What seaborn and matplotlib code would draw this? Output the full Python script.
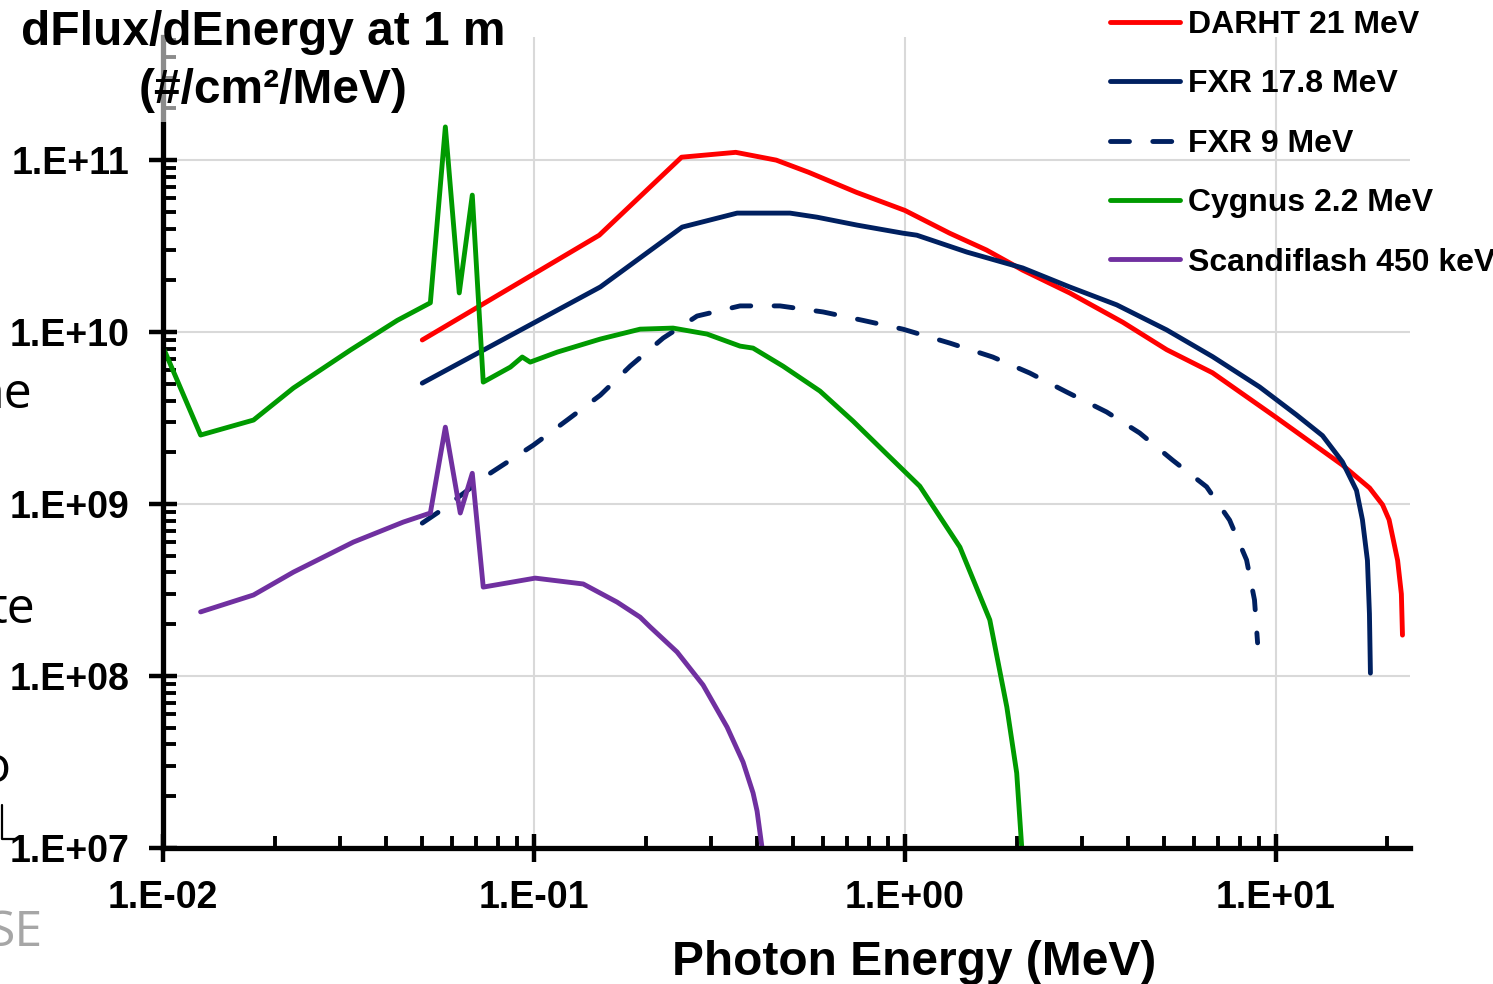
import numpy as np
import pandas as pd
import matplotlib
matplotlib.use("Agg")
import matplotlib.pyplot as plt
import seaborn as sns
from matplotlib.ticker import LogLocator, FuncFormatter, NullFormatter
from matplotlib.patches import Rectangle
from matplotlib.lines import Line2D

# ---------------- data ----------------
darht_x = [0.05, 0.15, 0.25, 0.35, 0.45, 0.55, 0.74, 1.0, 1.32, 1.66, 2.08, 2.78,
           3.87, 5.08, 6.75, 10.0, 15.1, 17.9, 19.4, 20.2, 21.3, 21.8, 21.95]
darht_y = [9.0e9, 3.66e10, 1.04e11, 1.11e11, 1.0e11, 8.5e10, 6.5e10, 5.1e10, 3.76e10,
           3.0e10, 2.29e10, 1.69e10, 1.14e10, 7.9e9, 5.8e9, 3.2e9, 1.69e9, 1.24e9,
           9.9e8, 8.1e8, 4.7e8, 3.0e8, 1.73e8]

fxr18_x = [0.05, 0.151, 0.251, 0.353, 0.49, 0.579, 0.743, 0.988, 1.077, 1.469, 2.078,
           2.782, 3.724, 5.077, 6.752, 9.04, 11.37, 13.36, 15.12, 16.5, 17.12, 17.66,
           17.88, 17.99]
fxr18_y = [5.05e9, 1.83e10, 4.08e10, 4.92e10, 4.92e10, 4.66e10, 4.19e10, 3.76e10,
           3.66e10, 2.92e10, 2.36e10, 1.83e10, 1.44e10, 1.03e10, 7.2e9, 4.8e9, 3.3e9,
           2.5e9, 1.76e9, 1.2e9, 8.1e8, 4.7e8, 2.3e8, 1.04e8]

fxr9_x = [0.05, 0.0553, 0.0762, 0.0996, 0.1229, 0.151, 0.1817, 0.223, 0.2753, 0.3594,
          0.4607, 0.6014, 0.7707, 0.988, 1.322, 1.726, 2.171, 2.731, 3.499, 4.295,
          5.27, 6.507, 7.505, 8.34, 8.76, 8.93]
fxr9_y = [7.75e8, 8.98e8, 1.51e9, 2.2e9, 3.08e9, 4.3e9, 6.34e9, 9.23e9, 1.24e10,
          1.42e10, 1.42e10, 1.31e10, 1.17e10, 1.04e10, 8.63e9, 7.16e9, 5.78e9,
          4.48e9, 3.43e9, 2.59e9, 1.80e9, 1.26e9, 8.07e8, 4.73e8, 2.77e8, 1.56e8]

cyg_x = [0.01, 0.01263, 0.01754, 0.02247, 0.032, 0.04282, 0.05257, 0.0577, 0.0629,
         0.0682, 0.073, 0.0864, 0.093, 0.0977, 0.1156, 0.151, 0.1933, 0.2372, 0.2929,
         0.3594, 0.3897, 0.4692, 0.5903, 0.7244, 0.8942, 1.097, 1.407, 1.694, 1.883,
         2.002, 2.066]
cyg_y = [8.18e9, 2.52e9, 3.08e9, 4.73e9, 7.86e9, 1.17e10, 1.48e10, 1.56e11, 1.69e10,
         6.26e10, 5.12e9, 6.26e9, 7.16e9, 6.69e9, 7.65e9, 9.11e9, 1.04e10, 1.055e10,
         9.74e9, 8.29e9, 8.07e9, 6.34e9, 4.54e9, 3.04e9, 1.95e9, 1.27e9, 5.62e8,
         2.12e8, 6.6e7, 2.73e7, 1.0e7]

scan_x = [0.01263, 0.01754, 0.02247, 0.0326, 0.04446, 0.05257, 0.0577, 0.0633, 0.0682,
          0.073, 0.1008, 0.1358, 0.1676, 0.1933, 0.2057, 0.2431, 0.2857, 0.3316,
          0.3662, 0.3897, 0.3995, 0.4121]
scan_y = [2.36e8, 2.96e8, 4.02e8, 6.01e8, 7.86e8, 8.87e8, 2.8e9, 8.87e8, 1.51e9,
          3.29e8, 3.71e8, 3.43e8, 2.69e8, 2.2e8, 1.93e8, 1.38e8, 8.87e7, 5.05e7,
          3.16e7, 2.09e7, 1.64e7, 1.0e7]

series_names = ["DARHT 21 MeV", "FXR 17.8 MeV", "FXR 9 MeV", "Cygnus 2.2 MeV",
                "Scandiflash 450 keV"]
series_x = [darht_x, fxr18_x, fxr9_x, cyg_x, scan_x]
series_y = [darht_y, fxr18_y, fxr9_y, cyg_y, scan_y]
series_colors = ["#FF0000", "#002060", "#002060", "#009A00", "#7030A0"]
series_dashed = [False, False, True, False, False]

x_ticks = [0.01, 0.1, 1.0, 10.0]
y_ticks = [1e7, 1e8, 1e9, 1e10, 1e11]

# ---------------- style ----------------
sns.set_style("white")
plt.rcParams["font.family"] = ["Liberation Sans", "DejaVu Sans"]
plt.rcParams["font.weight"] = "bold"
plt.rcParams["text.color"] = "black"
plt.rcParams["axes.labelcolor"] = "black"
plt.rcParams["xtick.color"] = "black"
plt.rcParams["ytick.color"] = "black"

W, H = 1493, 984
fig = plt.figure(figsize=(W / 100, H / 100), dpi=100)
ax = fig.add_axes([163 / W, 1 - 848 / H, (1410 - 163) / W, (848 - 37) / H])

for name, xs, ys, col, dashed in zip(series_names, series_x, series_y,
                                     series_colors, series_dashed):
    df = pd.DataFrame({"x": xs, "y": ys})
    kw = dict(solid_capstyle="round", dash_capstyle="round")
    if dashed:
        kw["linestyle"] = (0, (3.9, 4.8))
    sns.lineplot(data=df, x="x", y="y", ax=ax, color=col, linewidth=3.5,
                 label=name, sort=False, estimator=None, **kw)

ax.set_xscale("log")
ax.set_yscale("log")
ax.set_xlim(0.01, 23)
ax.set_ylim(1e7, 5.2e11)

fmt = FuncFormatter(lambda v, p: f"1.E{int(round(np.log10(v))):+03d}")
ax.set_xticks(x_ticks)
ax.set_yticks(y_ticks)
ax.xaxis.set_major_formatter(fmt)
ax.yaxis.set_major_formatter(fmt)
ax.xaxis.set_minor_locator(LogLocator(base=10, subs=np.arange(2, 10), numticks=100))
ax.yaxis.set_minor_locator(LogLocator(base=10, subs=np.arange(2, 10), numticks=100))
ax.xaxis.set_minor_formatter(NullFormatter())
ax.yaxis.set_minor_formatter(NullFormatter())

ax.grid(True, which="major", color="#D9D9D9", linewidth=1.5)
ax.grid(False, which="minor")
ax.set_axisbelow(True)
for s in ["top", "right"]:
    ax.spines[s].set_visible(False)
for s in ["left", "bottom"]:
    ax.spines[s].set_color("black")
    ax.spines[s].set_linewidth(3.8)

ax.tick_params(which="both", bottom=True, left=True, top=False, right=False)
ax.tick_params(which="major", direction="inout", length=20, width=3.2, color="black",
               labelsize=27, labelcolor="black")
ax.tick_params(axis="x", which="major", pad=13)
ax.tick_params(axis="y", which="major", pad=14)
ax.tick_params(which="minor", direction="in", length=9, width=2.8, color="black")
ax.set_xlabel("")
ax.set_ylabel("")

# legend
handles, labels = ax.get_legend_handles_labels()
ax.get_legend().remove()
fig.legend(handles, labels, loc="upper left", bbox_to_anchor=(1110 / W, 1 - 10 / H),
           frameon=False, prop={"size": 23, "weight": "bold"}, handlelength=2.2,
           handletextpad=0.24, labelspacing=0.92, borderpad=0, borderaxespad=0,
           labelcolor="black")

# semi-transparent title area over the top of the axis
fig.add_artist(Rectangle((0, 1 - 122 / H), 515 / W, 122 / H, transform=fig.transFigure,
                         facecolor="white", edgecolor="none", alpha=0.55, zorder=5))
fig.text(263 / W, 1 - 45 / H, "dFlux/dEnergy at 1 m", ha="center", va="baseline",
         fontsize=34.5, fontweight="bold", color="black", zorder=6)
fig.text(273 / W, 1 - 103 / H, "(#/cm²/MeV)", ha="center", va="baseline",
         fontsize=34.5, fontweight="bold", color="black", zorder=6)

fig.text(914 / W, 1 - 975 / H, "Photon Energy (MeV)", ha="center", va="baseline",
         fontsize=34.5, fontweight="bold", color="black")

# fragments of the surrounding slide text (cut at the left edge, as in the reference)
frag = dict(family=["Open Sans", "DejaVu Sans"], fontweight="normal", fontsize=36,
            ha="right", va="baseline")
fig.text(33 / W, 1 - 408 / H, "ne", color="black", **frag)
fig.text(35 / W, 1 - 623 / H, "te", color="black", **frag)
fig.text(10 / W, 1 - 782 / H, "o", color="black", **frag)
fig.text(43 / W, 1 - 946 / H, "SE", color="#A6A6A6", **frag)
fig.add_artist(Line2D([2 / W, 2 / W, 15 / W], [1 - 805 / H, 1 - 839 / H, 1 - 839 / H],
                      transform=fig.transFigure, color="black", linewidth=1.6))

fig.savefig("out.png", dpi=100)
